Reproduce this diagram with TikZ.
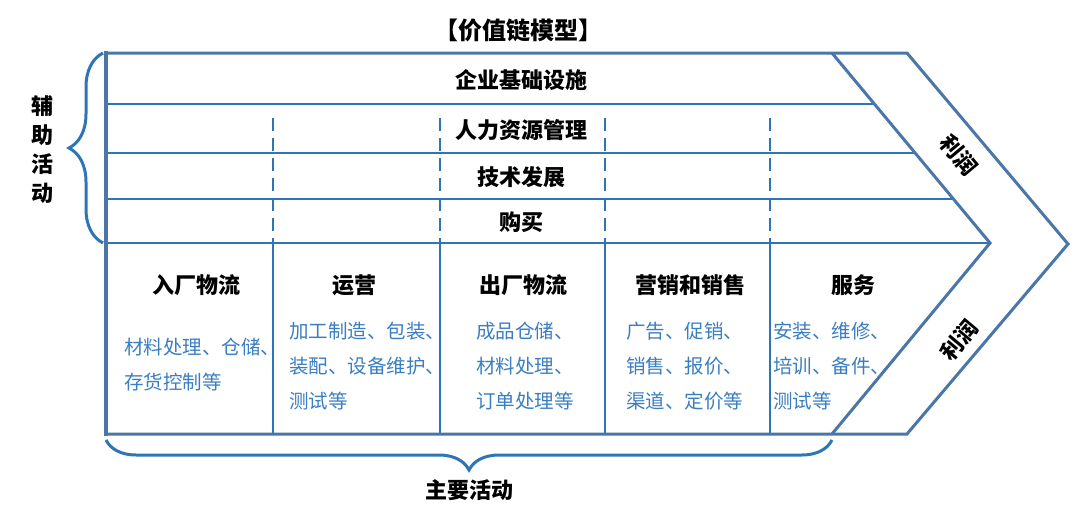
\documentclass[tikz,border=0pt]{standalone}
\usepackage{fontspec}
\setmainfont{Noto Sans CJK SC}
\usetikzlibrary{decorations.pathreplacing}
\definecolor{frameblue}{HTML}{4A76A8}
\definecolor{lineblue}{HTML}{2E75B6}
\definecolor{textblue}{HTML}{3A7EC0}

\tikzset{
  head/.style={font=\bfseries\fontsize{22}{22}\selectfont, text=black, inner sep=0pt},
  desc/.style={font=\fontsize{19.5}{35}\selectfont, text=textblue, align=left, anchor=west, inner sep=0pt},
  bracebox/.style={lineblue, line width=3pt, decorate, decoration={brace, amplitude=#1}}
}

\begin{document}
\begin{tikzpicture} [x=1pt, y=-1pt]
\useasboundingbox (0,0) rectangle (1080,517);

\foreach \y/\xe in {104/874.4, 153/915.2, 199/953.4, 243/990}
 \draw[lineblue, line width=2.5pt] (106,\y)--(\xe,\y);
\foreach \x in {273, 440, 605, 770} {
 \draw[lineblue, line width=2.8pt, dash pattern=on 13pt off 7pt] (\x,118)--(\x,243);
 \draw[lineblue, line width=2.5pt] (\x,243)--(\x,434);
}

\draw[frameblue, line width=3pt, line join=miter] (106,53)--(907,53)--(1068,244)--(907,434)--(106,434);
\draw[frameblue, line width=3pt] (832,53)--(990,243)--(832,434);
\draw[frameblue, line width=4.5pt] (106,51)--(106,436);

\draw[bracebox=34pt] (103,243)--(103,53);
\draw[bracebox=30pt] (832,440)--(106,440);

\node[head, font=\bfseries\fontsize{24}{24}\selectfont] (title) at (518,30) {【价值链模型】};
\node[head, font=\bfseries\fontsize{22}{29}\selectfont, align=center] (support) at (42,150) {辅\\助\\活\\动};
\node[head] (primary) at (469,490) {主要活动};

\node[head] (infra) at (521,80) {企业基础设施};
\node[head] (hr) at (521,130) {人力资源管理};
\node[head] (tech) at (521,177) {技术发展};
\node[head] (buy) at (521,222) {购买};

\node[head] (inbound) at (196,285) {入厂物流};
\node[head] (ops) at (354,285) {运营};
\node[head] (outbound) at (523,285) {出厂物流};
\node[head] (sales) at (690,285) {营销和销售};
\node[head] (service) at (853,285) {服务};

\node[desc] (inbounddesc) at (124,364.5) {材料处理、仓储、\\存货控制等};
\node[desc] (opsdesc) at (289,366) {加工制造、包装、\\装配、设备维护、\\测试等};
\node[desc] (outbounddesc) at (476,366) {成品仓储、\\材料处理、\\订单处理等};
\node[desc] (salesdesc) at (626,366) {广告、促销、\\销售、报价、\\渠道、定价等};
\node[desc] (servicedesc) at (773,366) {安装、维修、\\培训、备件、\\测试等};

\node[head, rotate=-50] (profittop) at (959,155) {利润};
\node[head, rotate=50] (profitbottom) at (959,340) {利润};

\end{tikzpicture}
\end{document}
